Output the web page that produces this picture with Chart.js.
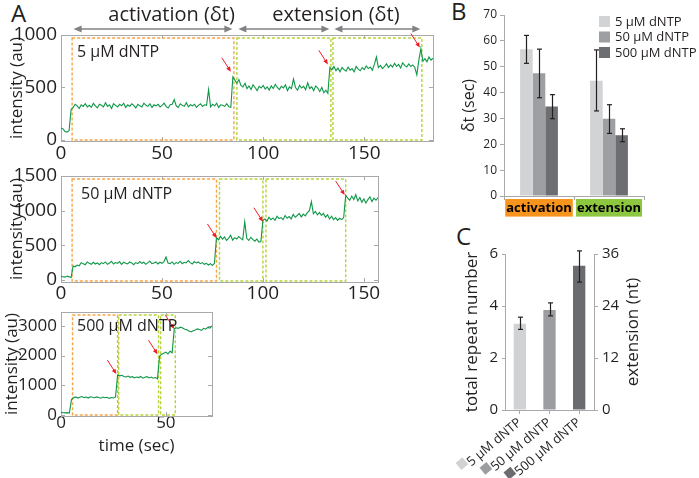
<!DOCTYPE html>
<html>
<head>
<meta charset="utf-8">
<script src="https://cdn.jsdelivr.net/npm/chart.js@4.4.1/dist/chart.umd.min.js"></script>
<style>
  body { margin: 0; width: 699px; height: 478px; position: relative; overflow: hidden; background: #fff; font-family: "Open Sans", sans-serif; color: #231f20; }
  canvas { position: absolute; }
  .panel { position: absolute; font-size: 24px; line-height: 24px; }
</style>
</head>
<body>
<div class="panel" style="left:11px;top:1px">A</div>
<div class="panel" style="left:451px;top:-1px">B</div>
<div class="panel" style="left:456px;top:224px">C</div>
<canvas id="trace-5" width="450" height="175" style="left:0;top:0"></canvas>
<canvas id="trace-50" width="450" height="165" style="left:0;top:150px"></canvas>
<canvas id="trace-500" width="260" height="183" style="left:0;top:295px"></canvas>
<canvas id="dt-chart" width="254" height="230" style="left:445px;top:0"></canvas>
<canvas id="repeat-chart" width="254" height="253" style="left:445px;top:225px"></canvas>
<script>
// --- data
// intensity traces, one reading per second (au)
var trace5 = [
  115, 105, 80, 75, 90, 290, 310, 340, 325, 300,
  335, 320, 345, 315, 330, 310, 350, 325, 305, 340,
  330, 315, 355, 320, 335, 300, 345, 330, 315, 340,
  325, 350, 310, 335, 320, 345, 330, 305, 340, 325,
  315, 350, 330, 320, 345, 310, 335, 325, 340, 315,
  330, 350, 320, 305, 335, 340, 385, 325, 310, 345,
  330, 320, 355, 315, 335, 325, 340, 310, 330, 345,
  320, 335, 330, 480, 315, 340, 325, 350, 310, 335,
  330, 320, 345, 315, 310, 600, 570, 540, 575, 520,
  505, 540, 490, 515, 480, 525, 500, 470, 510, 495,
  520, 485, 505, 475, 515, 490, 530, 500, 480, 510,
  495, 525, 470, 505, 490, 580, 500, 475, 520, 495,
  510, 480, 545, 490, 505, 470, 515, 495, 460, 500,
  450, 475, 445, 690, 670, 700, 660, 685, 650, 690,
  670, 655, 695, 665, 680, 650, 700, 675, 660, 690,
  670, 705, 680, 695, 665, 720, 790, 690, 710, 680,
  700, 725, 690, 715, 695, 730, 700, 720, 685, 735,
  710, 695, 725, 700, 715, 690, 620, 760, 870, 750,
  775, 745, 790, 760, 780
];
var trace50 = [
  50, 45, 40, 55, 45, 35, 200, 190, 215, 205,
  250, 235, 220, 260, 240, 225, 255, 230, 245, 220,
  250, 235, 260, 225, 245, 270, 230, 250, 240, 265,
  225, 255, 240, 230, 260, 245, 220, 250, 235, 265,
  240, 255, 225, 250, 270, 235, 245, 260, 230, 255,
  240, 265, 330, 245, 235, 260, 225, 250, 240, 270,
  235, 255, 245, 280, 250, 230, 265, 245, 260, 235,
  250, 225, 240, 215, 235, 210, 240, 610, 580, 630,
  590, 620, 570, 600, 645, 575, 610, 590, 625, 600,
  580, 840, 600, 570, 615, 585, 560, 590, 545, 555,
  860, 880, 850, 905, 870, 895, 860, 920, 885, 900,
  870, 930, 890, 915, 880, 945, 905, 930, 960, 910,
  950, 925, 970, 1000, 1130, 955, 990, 940, 975, 930,
  960, 905, 940, 880, 920, 870, 900, 860, 890, 870,
  900, 1220, 1180, 1150, 1210, 1160, 1230, 1140, 1190, 1120,
  1170, 1110, 1160, 1200, 1130, 1180, 1150, 1190
];
var trace500 = [
  90, 75, 70, 80, 65, 520, 580, 610, 570, 600,
  620, 585, 605, 570, 615, 595, 580, 610, 590, 565,
  605, 580, 595, 560, 590, 575, 610, 1350, 1320, 1340,
  1300, 1280, 1310, 1270, 1290, 1250, 1280, 1260, 1300, 1240,
  1270, 1290, 1250, 1280, 1240, 1260, 1220, 1980, 2050, 2080,
  2120, 2060, 2150, 2100, 2900, 2940, 2920, 2960, 2930, 2890,
  2870, 2830, 2800, 2840, 2860, 2900, 2880, 2850, 2920, 2890,
  2950, 2930, 3000
];
// activation / extension windows (sec) and marked steps [sec, au]
var act5 = [[5.5, 85.5]];
var ext5 = [[87, 133.5], [134.5, 178.5]];
var steps5 = [[84, 650], [132, 720], [177.5, 880]];
var act50 = [[5.5, 77]];
var ext50 = [[78.5, 100], [101.5, 141]];
var steps50 = [[77, 605], [100, 840], [140.5, 1225]];
var act500 = [[5.5, 27]];
var ext500 = [[27.5, 46.5], [47.5, 54.5]];
var steps500 = [[26.4, 1380], [46, 2050], [54, 2900]];

var ticks5 = [0, 500, 1000];
var ticks50 = [0, 500, 1000, 1500];
var ticks500 = [0, 1000, 2000, 3000];
var timeTicks = [0, 50, 100, 150];
var timeTicks500 = [0, 50];

var concLabels = ['5 \u03bcM dNTP', '50 \u03bcM dNTP', '500 \u03bcM dNTP'];
var phases = ['activation', 'extension'];
var phaseTitles = ['activation (\u03b4t)', 'extension (\u03b4t)'];

// delta t (sec): [activation, extension]
var dt5 = [56.8, 44.6];
var dt50 = [47.5, 29.9];
var dt500 = [34.6, 23.5];
var dt5Lo = [51.3, 32.9];
var dt5Hi = [62.1, 56.5];
var dt50Lo = [38, 24.2];
var dt50Hi = [56.8, 35.3];
var dt500Lo = [29.9, 21];
var dt500Hi = [39.2, 26];

// total repeat number per concentration
var repeats = [3.32, 3.85, 5.55];
var repeatsLo = [3.1, 3.62, 4.92];
var repeatsHi = [3.57, 4.12, 6.12];
var repeatTicks = [0, 2, 4, 6];
var ntTicks = [0, 12, 24, 36];

// --- styles
var ink = '#231f20';
var axisGray = '#a7a9ac';
var sans = '"Open Sans", sans-serif';
var traceGreen = '#0f9748';
var actColor = '#f7a445';
var extColor = '#b5d43a';
var greys = ['#d1d3d4', '#9d9fa2', '#6d6e71'];
var phaseColors = ['#f7941d', '#8dc63f'];

Chart.defaults.font.family = sans;
Chart.defaults.color = ink;

function fixTicks(list) {
  return function(scale) {
    scale.ticks = list.map(function(v) { return {value: v}; });
  };
}

function line(ctx, x0, y0, x1, y1) {
  ctx.beginPath(); ctx.moveTo(x0, y0); ctx.lineTo(x1, y1); ctx.stroke();
}

function arrowHead(ctx, x, y, ang, len, half) {
  ctx.beginPath();
  ctx.moveTo(x, y);
  ctx.lineTo(x - len * Math.cos(ang) + half * Math.sin(ang), y - len * Math.sin(ang) - half * Math.cos(ang));
  ctx.lineTo(x - len * Math.cos(ang) - half * Math.sin(ang), y - len * Math.sin(ang) + half * Math.cos(ang));
  ctx.closePath();
  ctx.fill();
}

// frame, windows, red step arrows and labels for a trace panel
function traceDecor(cfg) {
  return {
    id: 'traceDecor',
    beforeDatasetsDraw: function(chart) {
      var ctx = chart.ctx, a = chart.chartArea, xs = chart.scales.x, ys = chart.scales.y;
      ctx.save();
      ctx.strokeStyle = axisGray;
      ctx.lineWidth = 1;
      ctx.strokeRect(a.left + 0.5, a.top + 0.5, a.right - a.left, a.bottom - a.top);
      ys.ticks.forEach(function(t) {
        var py = Math.round(ys.getPixelForValue(t.value)) + 0.5;
        line(ctx, a.left, py, a.left + 4, py);
        line(ctx, a.right - 4, py, a.right, py);
      });
      xs.ticks.forEach(function(t) {
        var px = Math.round(xs.getPixelForValue(t.value)) + 0.5;
        line(ctx, px, a.bottom, px, a.bottom - 4);
        line(ctx, px, a.top, px, a.top + 4);
      });
      ctx.setLineDash([3, 2]);
      ctx.lineWidth = 1.4;
      function box(w, color) {
        var x0 = xs.getPixelForValue(w[0]), x1 = xs.getPixelForValue(w[1]);
        ctx.strokeStyle = color;
        ctx.strokeRect(x0, a.top + 3, x1 - x0, a.bottom - a.top - 4);
      }
      cfg.act.forEach(function(w) { box(w, actColor); });
      cfg.ext.forEach(function(w) { box(w, extColor); });
      ctx.restore();
    },
    afterDatasetsDraw: function(chart) {
      var ctx = chart.ctx, a = chart.chartArea, xs = chart.scales.x, ys = chart.scales.y;
      ctx.save();
      ctx.strokeStyle = '#ed1c24';
      ctx.fillStyle = '#ed1c24';
      ctx.lineWidth = 1;
      cfg.steps.forEach(function(s) {
        var tx = xs.getPixelForValue(s[0]), ty = ys.getPixelForValue(s[1]);
        var ang = Math.atan2(14, 9);
        line(ctx, tx - 9, ty - 14, tx - 3 * Math.cos(ang), ty - 3 * Math.sin(ang));
        arrowHead(ctx, tx, ty, ang, 5, 2.2);
      });
      ctx.fillStyle = ink;
      ctx.font = '16px ' + sans;
      ctx.textBaseline = 'middle';
      ctx.fillText(cfg.label, a.left + cfg.labelDx, a.top + cfg.labelDy);
      if (cfg.titles) {
        var yArr = a.top - 6;
        ctx.strokeStyle = '#808285';
        ctx.fillStyle = '#808285';
        ctx.lineWidth = 1.5;
        cfg.act.concat(cfg.ext).forEach(function(w) {
          var x0 = xs.getPixelForValue(w[0]) + 1.5, x1 = xs.getPixelForValue(w[1]) - 1.5;
          line(ctx, x0 + 4, yArr, x1 - 4, yArr);
          arrowHead(ctx, x0, yArr, Math.PI, 8, 3.5);
          arrowHead(ctx, x1, yArr, 0, 8, 3.5);
        });
        ctx.fillStyle = ink;
        ctx.font = '20px ' + sans;
        ctx.textAlign = 'right';
        ctx.fillText(phaseTitles[0], xs.getPixelForValue(cfg.act[0][1]) + 1, 15);
        ctx.textAlign = 'center';
        ctx.fillText(phaseTitles[1], (xs.getPixelForValue(cfg.ext[0][1]) + xs.getPixelForValue(cfg.ext[1][0])) / 2 + 4, 15);
      }
      ctx.restore();
    }
  };
}

function traceChart(id, values, cfg) {
  return new Chart(document.getElementById(id), {
    type: 'line',
    data: {
      datasets: [{
        data: values.map(function(v, i) { return {x: i, y: v}; }),
        borderColor: traceGreen,
        borderWidth: 1.1,
        pointRadius: 0,
        tension: 0
      }]
    },
    options: {
      responsive: false,
      animation: false,
      devicePixelRatio: 1,
      layout: {padding: cfg.padding},
      plugins: {legend: {display: false}, tooltip: {enabled: false}},
      scales: {
        x: {
          type: 'linear', min: 0, max: values.length - 1,
          afterBuildTicks: fixTicks(cfg.xTicks),
          afterFit: function(s) { s.height = cfg.xHeight; },
          grid: {display: false, drawTicks: false},
          border: {display: false},
          ticks: {font: {size: cfg.tickSize}, padding: cfg.xPad, color: ink, maxRotation: 0,
                  callback: function(v) { return String(v); }},
          title: {display: !!cfg.xTitle, text: cfg.xTitle || '', font: {size: 17}, padding: 0, color: ink}
        },
        y: {
          min: cfg.yMin, max: cfg.yMax,
          afterBuildTicks: fixTicks(cfg.yTicks),
          afterFit: function(s) { s.width = 61; },
          grid: {display: false, drawTicks: false},
          border: {display: false},
          ticks: {font: {size: cfg.tickSize}, padding: 4, color: ink,
                  callback: function(v) { return String(v); }},
          title: {display: true, text: 'intensity (au)', font: {size: 17}, padding: {top: cfg.titlePad, bottom: 0}, color: ink}
        }
      }
    },
    plugins: [traceDecor(cfg)]
  });
}

// --A traces
traceChart('trace-5', trace5, {
  padding: {left: 0, top: 35, right: 17, bottom: 4}, xHeight: 30, xPad: 1,
  yMin: -10, yMax: 1000, yTicks: ticks5, xTicks: timeTicks, tickSize: 19, titlePad: 7,
  act: act5, ext: ext5, steps: steps5, label: concLabels[0], labelDx: 16, labelDy: 17, titles: true
});
traceChart('trace-50', trace50, {
  padding: {left: 0, top: 26, right: 72, bottom: 3}, xHeight: 30, xPad: 0,
  yMin: -30, yMax: 1500, yTicks: ticks50, xTicks: timeTicks, tickSize: 19, titlePad: 7,
  act: act50, ext: ext50, steps: steps50, label: concLabels[1], labelDx: 20, labelDy: 18
});
traceChart('trace-500', trace500, {
  padding: {left: 0, top: 17, right: 48, bottom: 22}, xHeight: 40, xPad: -3, xTitle: 'time (sec)',
  yMin: -34, yMax: 3470, yTicks: ticks500, xTicks: timeTicks500, tickSize: 17, titlePad: 2,
  act: act500, ext: ext500, steps: steps500, label: concLabels[2], labelDx: 16, labelDy: 14
});

// error bars from the errLow / errHigh arrays kept on each dataset
var errorBars = {
  id: 'errorBars',
  afterDatasetsDraw: function(chart) {
    var ctx = chart.ctx;
    ctx.save();
    ctx.strokeStyle = ink;
    ctx.lineWidth = 1.2;
    chart.data.datasets.forEach(function(ds, i) {
      var meta = chart.getDatasetMeta(i), ys = chart.scales[meta.yAxisID];
      meta.data.forEach(function(bar, j) {
        var x = Math.round(bar.x) + 0.5;
        var lo = ys.getPixelForValue(ds.errLow[j]), hi = ys.getPixelForValue(ds.errHigh[j]);
        line(ctx, x, lo, x, hi);
        line(ctx, x - 2.5, lo, x + 2.5, lo);
        line(ctx, x - 2.5, hi, x + 2.5, hi);
      });
    });
    ctx.restore();
  }
};

// --B delta t chart
var dtLegend = {
  id: 'dtLegend',
  afterDraw: function(chart) {
    var ctx = chart.ctx, a = chart.chartArea;
    ctx.save();
    ctx.font = '13px ' + sans;
    ctx.textBaseline = 'middle';
    chart.data.datasets.forEach(function(ds, i) {
      var top = a.top + 1 + i * 15.5;
      ctx.fillStyle = ds.backgroundColor;
      ctx.fillRect(a.right - 45, top, 11, 11);
      ctx.fillStyle = ink;
      ctx.fillText(ds.label, a.right - 29, top + 6);
    });
    ctx.restore();
  }
};

new Chart(document.getElementById('dt-chart'), {
  type: 'bar',
  data: {
    labels: phases,
    datasets: [
      {label: concLabels[0], data: dt5, errLow: dt5Lo, errHigh: dt5Hi, backgroundColor: greys[0]},
      {label: concLabels[1], data: dt50, errLow: dt50Lo, errHigh: dt50Hi, backgroundColor: greys[1]},
      {label: concLabels[2], data: dt500, errLow: dt500Lo, errHigh: dt500Hi, backgroundColor: greys[2]}
    ]
  },
  options: {
    responsive: false,
    animation: false,
    devicePixelRatio: 1,
    layout: {padding: {left: 0, top: 15, right: 55, bottom: 4}},
    datasets: {bar: {categoryPercentage: 0.54, barPercentage: 1}},
    plugins: {legend: {display: false}, tooltip: {enabled: false}},
    scales: {
      x: {
        afterFit: function(s) { s.height = 30; },
        border: {color: axisGray},
        grid: {drawOnChartArea: false, tickLength: 4, color: axisGray},
        ticks: {
          font: {size: 13, weight: 'bold'}, color: '#000', padding: 0,
          autoSkip: false, minRotation: 0, maxRotation: 0,
          showLabelBackdrop: true,
          backdropColor: function(c) { return phaseColors[c.index]; },
          backdropPadding: {x: 1, y: 1}
        }
      },
      y: {
        min: 0, max: 70,
        afterFit: function(s) { s.width = 59; },
        border: {color: axisGray},
        grid: {drawOnChartArea: false, tickLength: 4, color: axisGray},
        ticks: {stepSize: 10, font: {size: 12}, padding: 3, color: ink},
        title: {display: true, text: '\u03b4t (sec)', font: {size: 16}, padding: {top: 15, bottom: 0}, color: ink}
      }
    }
  },
  plugins: [errorBars, dtLegend]
});

// --C repeat number chart
var ntTitle = 'extension (nt)';
var repeatDecor = {
  id: 'repeatDecor',
  afterDraw: function(chart) {
    var ctx = chart.ctx, a = chart.chartArea, xs = chart.scales.x, y2 = chart.scales.y2;
    var ang = 40 * Math.PI / 180;
    var colors = chart.data.datasets[0].backgroundColor;
    ctx.save();
    ctx.font = '13px ' + sans;
    chart.data.labels.forEach(function(lbl, i) {
      var px = xs.getPixelForTick(i), w = ctx.measureText(lbl).width + 9;
      ctx.save();
      ctx.translate(px - w * Math.cos(ang), a.bottom + 5 + w * Math.sin(ang));
      ctx.rotate(-ang);
      ctx.fillStyle = colors[i];
      ctx.fillRect(-4.5, -4.5, 9, 9);
      ctx.restore();
    });
    ctx.translate(y2.right - 11, (a.top + a.bottom) / 2);
    ctx.rotate(-Math.PI / 2);
    ctx.fillStyle = ink;
    ctx.font = '17px ' + sans;
    ctx.textAlign = 'center';
    ctx.textBaseline = 'middle';
    ctx.fillText(ntTitle, 0, 0);
    ctx.restore();
  }
};

new Chart(document.getElementById('repeat-chart'), {
  type: 'bar',
  data: {
    labels: concLabels,
    datasets: [{
      data: repeats, errLow: repeatsLo, errHigh: repeatsHi,
      backgroundColor: ['#d0d2d3', '#9b9da0', '#6b6c6f'],
      categoryPercentage: 1, barPercentage: 0.415
    }]
  },
  options: {
    responsive: false,
    animation: false,
    devicePixelRatio: 1,
    layout: {padding: {left: 0, top: 29, right: 55, bottom: 0}},
    plugins: {legend: {display: false}, tooltip: {enabled: false}},
    scales: {
      x: {
        afterFit: function(s) { s.height = 68; },
        border: {color: axisGray},
        grid: {drawOnChartArea: false, offset: false, tickLength: 4, color: axisGray},
        ticks: {font: {size: 13}, color: ink, padding: 1, minRotation: 40, maxRotation: 40, autoSkip: false}
      },
      y: {
        min: 0, max: 6,
        afterBuildTicks: fixTicks(repeatTicks),
        afterFit: function(s) { s.width = 60; },
        border: {color: axisGray},
        grid: {drawOnChartArea: false, tickLength: 3, color: axisGray},
        ticks: {font: {size: 15}, padding: 4, color: ink},
        title: {display: true, text: 'total repeat number', font: {size: 17}, padding: {top: 17, bottom: 0}, color: ink}
      },
      y2: {
        position: 'right',
        min: 0, max: 36,
        afterBuildTicks: fixTicks(ntTicks),
        afterFit: function(s) { s.width = 50; },
        border: {color: axisGray},
        grid: {drawOnChartArea: false, tickLength: 4, color: axisGray},
        ticks: {font: {size: 15}, padding: 4, color: ink}
      }
    }
  },
  plugins: [errorBars, repeatDecor]
});
</script>
</body>
</html>
